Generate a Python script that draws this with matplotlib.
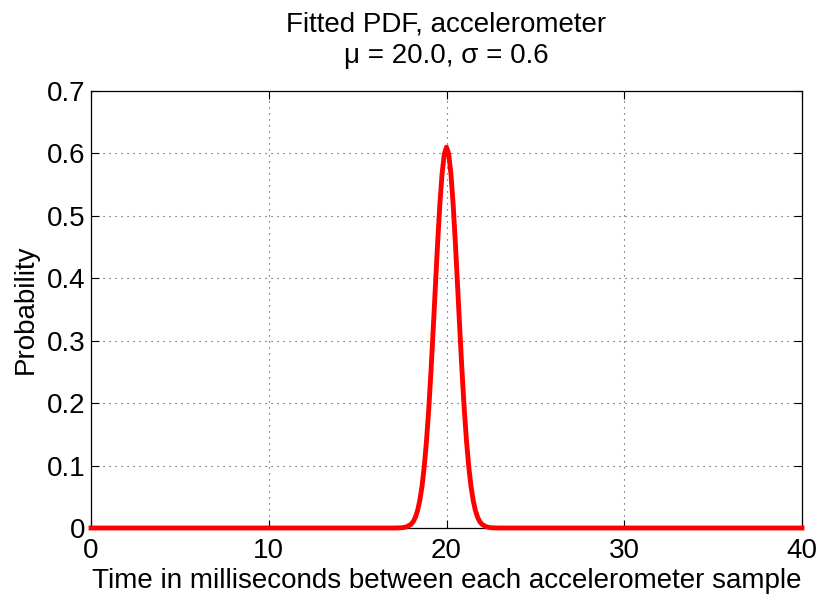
import matplotlib
matplotlib.use("Agg")
import matplotlib.pyplot as plt

# Curve points
x_vals = [0, 15, 17.0, 17.25, 17.5, 17.75, 18.0, 18.125, 18.25, 18.375, 18.5, 18.625, 18.75, 18.875,
          19.0, 19.125, 19.25, 19.375, 19.5, 19.625, 19.75, 19.875, 20.0,
          20.125, 20.25, 20.375, 20.5, 20.625, 20.75, 20.875, 21.0,
          21.125, 21.25, 21.375, 21.5, 21.625, 21.75, 21.875, 22.0,
          22.25, 22.5, 22.75, 23.0, 25, 40]
y_vals = [0, 0, 0.0, 0.0001, 0.0004, 0.0017, 0.0058, 0.0101, 0.0172, 0.0281, 0.0444, 0.0673, 0.0987, 0.1396,
          0.190, 0.250, 0.317, 0.387, 0.456, 0.518, 0.567, 0.599, 0.610,
          0.599, 0.567, 0.518, 0.456, 0.387, 0.317, 0.250, 0.190,
          0.1396, 0.0987, 0.0673, 0.0444, 0.0281, 0.0172, 0.0101, 0.0058,
          0.0017, 0.0004, 0.0001, 0.0, 0, 0]

x_ticks = [0, 10, 20, 30, 40]
y_ticks = [0, 0.1, 0.2, 0.3, 0.4, 0.5, 0.6, 0.7]
y_tick_labels = ["0", "0.1", "0.2", "0.3", "0.4", "0.5", "0.6", "0.7"]

title_text = "Fitted PDF, accelerometer\n\u03bc = 20.0, \u03c3 = 0.6"
x_label = "Time in milliseconds between each accelerometer sample"
y_label = "Probability"

plt.rcParams['font.family'] = ['Liberation Sans', 'DejaVu Sans']

fig = plt.figure(figsize=(8.21, 5.97), dpi=100)
ax = fig.add_axes([91/821, 1-528/597, (802-91)/821, (528-91)/597])

ax.plot(x_vals, y_vals, color='#ff0000', lw=3.5, clip_on=False, zorder=3,
        solid_joinstyle='round')

ax.set_xlim(0, 40)
ax.set_ylim(0, 0.7)
ax.set_xticks(x_ticks)
ax.set_xticklabels([str(t) for t in x_ticks])
ax.set_yticks(y_ticks)
ax.set_yticklabels(y_tick_labels)
ax.tick_params(direction='in', length=6, width=0.8, labelsize=20, top=True, right=True,
               color='black')
ax.tick_params(axis='x', pad=7)
ax.tick_params(axis='y', pad=4)
for s in ax.spines.values():
    s.set_linewidth(0.9)
    s.set_color('black')

ax.grid(True, color='0.25', lw=0.8, linestyle=(0, (1, 4.4)))
ax.set_axisbelow(True)

ax.set_title(title_text, fontsize=20, linespacing=1.25, pad=20.5)
ax.set_xlabel(x_label, fontsize=20, labelpad=3)
ax.set_ylabel(y_label, fontsize=20, labelpad=6)

fig.savefig("out.png", dpi=100)
